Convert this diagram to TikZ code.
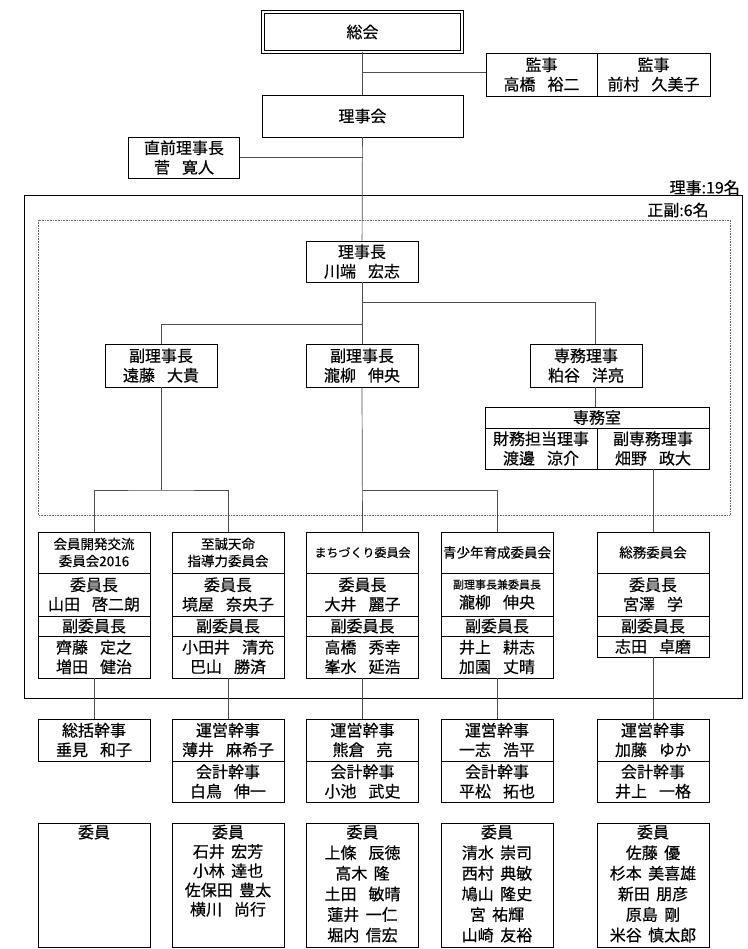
\documentclass[tikz,border=0pt]{standalone}
\usepackage{fontspec}
\setmainfont{Noto Sans CJK JP}[FakeBold=0.35,AutoFakeBold=0.35]
\usetikzlibrary{calc}
\newcommand\fA{\fontsize{16}{19.5}\selectfont\bfseries}
\newcommand\fH{\fontsize{13.5}{17}\selectfont\bfseries}
\newcommand\fM{\fontsize{12}{15}\selectfont\bfseries}
\newcommand\fS{\fontsize{11}{13}\selectfont\bfseries}
\newcommand\fL{\fontsize{16}{20.6}\selectfont\bfseries}
\newcommand\fLb{\fontsize{16}{19.3}\selectfont\bfseries}
\newcommand\gp{\hspace{0.75em}}
\newcommand\gs{\hspace{0.4em}}
\tikzset{
  box/.style={draw=black, line width=0.9pt, fill=white, minimum width=112pt, minimum height=#1, inner sep=0pt, align=center, font=\fA},
  con/.style={draw=black!70, line width=0.7pt},
  lbl/.style={inner sep=1pt, font=\fA}
}
\begin{document}
\begin{tikzpicture}[x=1pt,y=-1pt]
\useasboundingbox[fill=white] (0,0) rectangle (747,949);
% frames
\draw[line width=1pt] (24,196) rectangle (742,698);
\draw[black!60, line width=0.6pt, densely dotted] (38,220) rectangle (730,515);
\node[lbl, anchor=south east] (riji19) at (741,196) {理事:19名};
\node[lbl] (seifuku) at (678,210) {正副:6名};
% top
\node[box=40pt, minimum width=199pt, double, double distance=2pt, line width=0.8pt] (sokai) at (362.5,32) {総会};
\node[box=43pt, minimum width=111pt] (kanji1) at (541.5,74.5) {監事\\高橋\gp 裕二};
\node[box=43pt, minimum width=113pt] (kanji2) at (653.5,74.5) {監事\\前村\gp 久美子};
\node[box=42pt, minimum width=201pt] (rijikai) at (362.5,116) {理事会};
\node[box=41pt, minimum width=111pt] (zenri) at (184,157.5) {直前理事長\\菅\gp 寛人};
\node[box=41pt] (rijicho) at (362,261.5) {理事長\\川端\gp 宏志};
\node[box=43pt] (fuku1) at (161,365.5) {副理事長\\遠藤\gp 大貴};
\node[box=43pt] (fuku2) at (362,365.5) {副理事長\\瀧柳\gp 伸央};
\node[box=43pt] (senmu) at (586,365.5) {専務理事\\粕谷\gp 洋亮};
\node[box=21pt, minimum width=224pt] (shitsu) at (597,417.5) {専務室};
\node[box=41pt] (zaimu) at (541,448.5) {財務担当理事\\渡邊\gp 涼介};
\node[box=41pt] (fukusenmu) at (653,448.5) {副専務理事\\畑野\gp 政大};
% committees
\node[box=41pt, font=\fH] (h1) at (94,552.5) {会員開発交流\\委員会2016};
\node[box=43pt] (c1) at (94,594.5) {委員長\\山田\gp 啓二朗};
\node[box=20pt] (v1) at (94,626) {副委員長};
\node[box=42pt] (n1) at (94,657) {齊藤\gp 定之\\増田\gp 健治};
\node[box=41pt, font=\fH] (h2) at (228,552.5) {至誠天命\\指導力委員会};
\node[box=43pt] (c2) at (228,594.5) {委員長\\境屋\gp 奈央子};
\node[box=20pt] (v2) at (228,626) {副委員長};
\node[box=42pt] (n2) at (228,657) {小田井\gp 清充\\巴山\gp 勝済};
\node[box=41pt, font=\fM] (h3) at (362.5,552.5) {まちづくり委員会};
\node[box=43pt] (c3) at (362.5,594.5) {委員長\\大井\gp 麗子};
\node[box=20pt] (v3) at (362.5,626) {副委員長};
\node[box=42pt] (n3) at (362.5,657) {高橋\gp 秀幸\\峯水\gp 延浩};
\node[box=41pt, font=\fH] (h4) at (497,552.5) {青少年育成委員会};
\node[box=43pt] (c4) at (497,594.5) {{\fS 副理事長兼委員長}\\瀧柳\gp 伸央};
\node[box=20pt] (v4) at (497,626) {副委員長};
\node[box=42pt] (n4) at (497,657) {井上\gp 耕志\\加園\gp 丈晴};
\node[box=41pt, font=\fH] (h5) at (653,552.5) {総務委員会};
\node[box=43pt] (c5) at (653,594.5) {委員長\\宮澤\gp 学};
\node[box=20pt] (v5) at (653,626) {副委員長};
\node[box=21pt] (n5) at (653,646.5) {志田\gp 卓磨};
% kanji row
\node[box=42pt] (k1) at (94,740) {総括幹事\\垂見\gp 和子};
\node[box=42pt] (k2) at (228,740) {運営幹事\\薄井\gp 麻希子};
\node[box=41pt] (a2) at (228,781.5) {会計幹事\\白鳥\gp 伸一};
\node[box=42pt] (k3) at (362.5,740) {運営幹事\\熊倉\gp 亮};
\node[box=41pt] (a3) at (362.5,781.5) {会計幹事\\小池\gp 武史};
\node[box=42pt] (k4) at (497,740) {運営幹事\\一志\gp 浩平};
\node[box=41pt] (a4) at (497,781.5) {会計幹事\\平松\gp 拓也};
\node[box=42pt] (k5) at (653,740) {運営幹事\\加藤\gp ゆか};
\node[box=41pt] (a5) at (653,781.5) {会計幹事\\井上\gp 一格};
% iin row
\node[box=124pt] (i1) at (94,885) {};
\node[box=124pt] (i2) at (228,885) {};
\node[box=124pt] (i3) at (362.5,885) {};
\node[box=124pt] (i4) at (497,885) {};
\node[box=124pt] (i5) at (653,885) {};
\node[anchor=north, inner sep=2pt, align=center, font=\fL] (t1) at (i1.north) {委員};
\node[anchor=north, inner sep=2pt, align=center, font=\fLb] (t2) at (i2.north) {委員\\石井\gs 宏芳\\小林\gs 達也\\佐保田\gs 豊太\\横川\gp 尚行};
\node[anchor=north, inner sep=2pt, align=center, font=\fL] (t3) at (i3.north) {委員\\上條\gp 辰徳\\高木\gs 隆\\土田\gp 敏晴\\蓮井\gs 一仁\\堀内\gs 信宏};
\node[anchor=north, inner sep=2pt, align=center, font=\fL] (t4) at (i4.north) {委員\\清水\gs 崇司\\西村\gs 典敏\\鳩山\gs 隆史\\宮\gs 祐輝\\山崎\gs 友裕};
\node[anchor=north, inner sep=2pt, align=center, font=\fL] (t5) at (i5.north) {委員\\佐藤\gs 優\\杉本\gs 美喜雄\\新田\gs 朋彦\\原島\gs 剛\\米谷\gs 慎太郎};
% connectors
\draw[con] (sokai) -- (rijikai);
\coordinate (kj) at (362.5,72);
\draw[con] (kj) -- (kj -| kanji1.west);
\draw[con] (rijikai) -- (rijicho);
\coordinate (zj) at (362.5,157.5);
\draw[con] (zj) -- (zenri.east);
\draw[con] (rijicho) -- (fuku2);
\coordinate (sx) at (595,0);
\coordinate (b1) at (362,302);
\draw[con] (b1) -| (sx |- senmu.north);
\draw[con] (sx |- senmu.south) -- (sx |- shitsu.north);
\coordinate (b2) at (362,324);
\draw[con] (b2) -| (fuku1.north);
\coordinate (b3) at (161,490);
\draw[con] (fuku1.south) -- (b3);
\draw[con] (h1.north) |- (b3) -| (h2.north);
\draw[con] (fuku2.south) -- (h3.north);
\coordinate (b4) at (362.5,490);
\draw[con] (b4) -| (h4.north);
\draw[con] (fukusenmu.south) -- (h5.north);
\draw[con] (n1.south) -- (k1.north);
\draw[con] (n2.south) -- (k2.north);
\draw[con] (n3.south) -- (k3.north);
\draw[con] (n4.south) -- (k4.north);
\draw[con] (n5.south) -- (k5.north);
\end{tikzpicture}
\end{document}
